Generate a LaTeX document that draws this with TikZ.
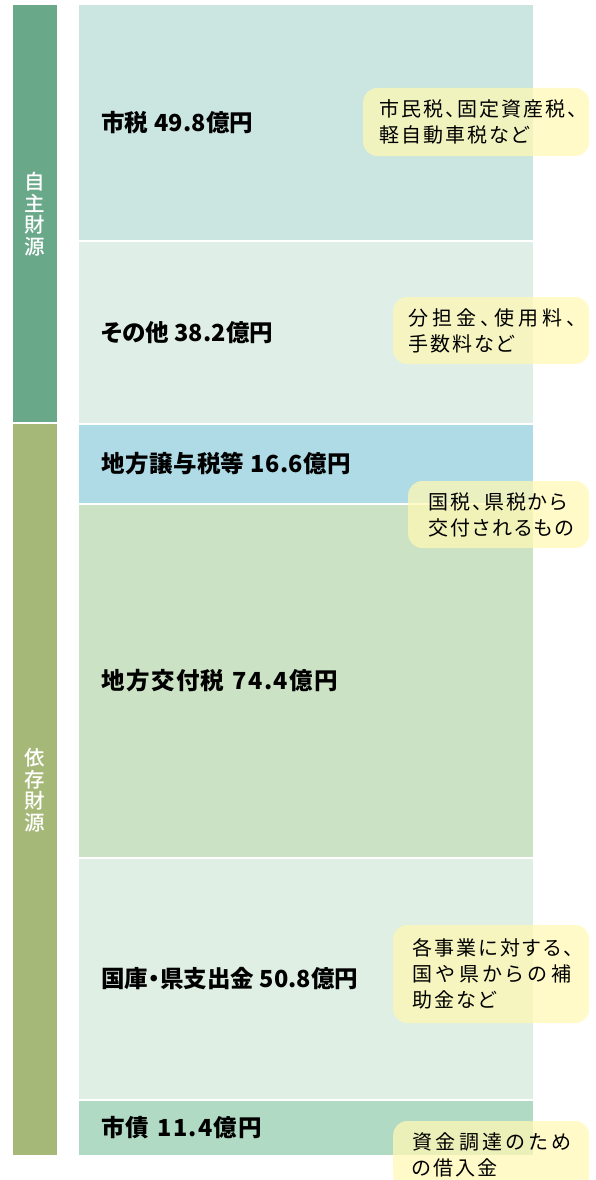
\documentclass[tikz,border=0pt]{standalone}
\usepackage{fontspec}
\setmainfont{Noto Sans CJK JP}[CharacterWidth=AlternateProportional]
\newfontfamily\sidefont{Noto Sans CJK JP Medium}
\definecolor{jishu}{HTML}{6AA88A}
\definecolor{izon}{HTML}{A6B877}
\definecolor{shizei}{HTML}{CBE5E0}
\definecolor{sonota}{HTML}{DFEFE8}
\definecolor{joyo}{HTML}{AEDBE6}
\definecolor{kofu}{HTML}{CBE2C4}
\definecolor{kokko}{HTML}{DFEFE3}
\definecolor{shisai}{HTML}{B0DAC4}
\definecolor{memo}{HTML}{FFF8B4}
\newdimen\jsgap \jsgap=2pt
\makeatletter
\def\jsp@go#1{\jsp@a#1\relax}
\def\jsp@a#1{#1\futurelet\jsp@next\jsp@b}
\def\jsp@b{\ifx\jsp@next\relax\expandafter\@gobble\else\hskip\jsgap plus 1fil\relax\expandafter\jsp@a\fi}
\newcommand\jspread[1]{\mbox{\jsp@go{#1}}}
\newcommand\jfit[2]{\makebox[#1][s]{\jsp@go{#2}}}
\makeatother
\newcommand\lfit[2]{{\jsgap=0pt\jfit{#1}{#2}}}
\begin{document}
\begin{tikzpicture}[x=1pt,y=-1pt,
  lbl/.style={anchor=west,inner sep=0pt,font=\fontsize{23.5}{26}\selectfont\bfseries},
  side/.style={text=white,align=center,font=\sidefont\fontsize{20.5}{21.5}\selectfont},
  memobox/.style={fill=memo,fill opacity=0.75,text opacity=1,rounded corners=14pt,
    anchor=west,align=left,inner ysep=0pt,font=\fontsize{20}{26}\selectfont}]
\clip (0,0) rectangle (595,1180);
% 財源の区分
\fill[jishu] (13,5) rectangle (57,422);
\fill[izon] (13,424) rectangle (57,1155);
\node[side] (jishu) at (35,214) {自\\主\\財\\源};
\node[side] (izon) at (35,790) {依\\存\\財\\源};
% 内訳
\fill[shizei] (79,5) rectangle (533,240);
\fill[sonota] (79,242) rectangle (533,423);
\fill[joyo] (79,424.5) rectangle (533,503);
\fill[kofu] (79,504.5) rectangle (533,857);
\fill[kokko] (79,858.5) rectangle (533,1099);
\fill[shisai] (79,1101) rectangle (533,1155);
\node[lbl] (shizei) at (101,122.5) {\lfit{152pt}{市税{\ }49.8億円}};
\node[lbl] (sonota) at (101,332.5) {\lfit{172pt}{その他{\ }38.2億円}};
\node[lbl] (joyo) at (101,463.5) {\lfit{250pt}{地方譲与税等{\ }16.6億円}};
\node[lbl] (kofu) at (101,680.5) {\lfit{237pt}{地方交付税{\ }74.4億円}};
\node[lbl] (kokko) at (101,978.5) {\lfit{257pt}{国庫・県支出金{\ }50.8億円}};
\node[lbl] (shisai) at (101,1128) {\lfit{161pt}{市債{\ }11.4億円}};
% 説明
\node[memobox,inner xsep=16pt,text width=194pt,minimum height=68pt] (memo1) at (363,122)
  {\jspread{市民税、固定資産税、}\\\jspread{軽自動車税など}};
\node[memobox,inner xsep=15pt,text width=166pt,minimum height=67pt] (memo2) at (393,330.5)
  {\jfit{168pt}{分担金、使用料、}\\\jspread{手数料など}};
\node[memobox,inner xsep=20pt,text width=141pt,minimum height=67pt] (memo3) at (408,514.5)
  {\jspread{国税、県税から}\\\jspread{交付されるもの}};
\node[memobox,inner xsep=19pt,text width=158pt,minimum height=98pt] (memo4) at (393,974)
  {\jfit{161pt}{各事業に対する、}\\\jfit{159pt}{国や県からの補}\\\jspread{助金など}};
\node[memobox,inner xsep=19pt,text width=158pt,minimum height=68pt] (memo5) at (393,1155)
  {\jfit{159pt}{資金調達のため}\\\jspread{の借入金}};
\end{tikzpicture}
\end{document}
